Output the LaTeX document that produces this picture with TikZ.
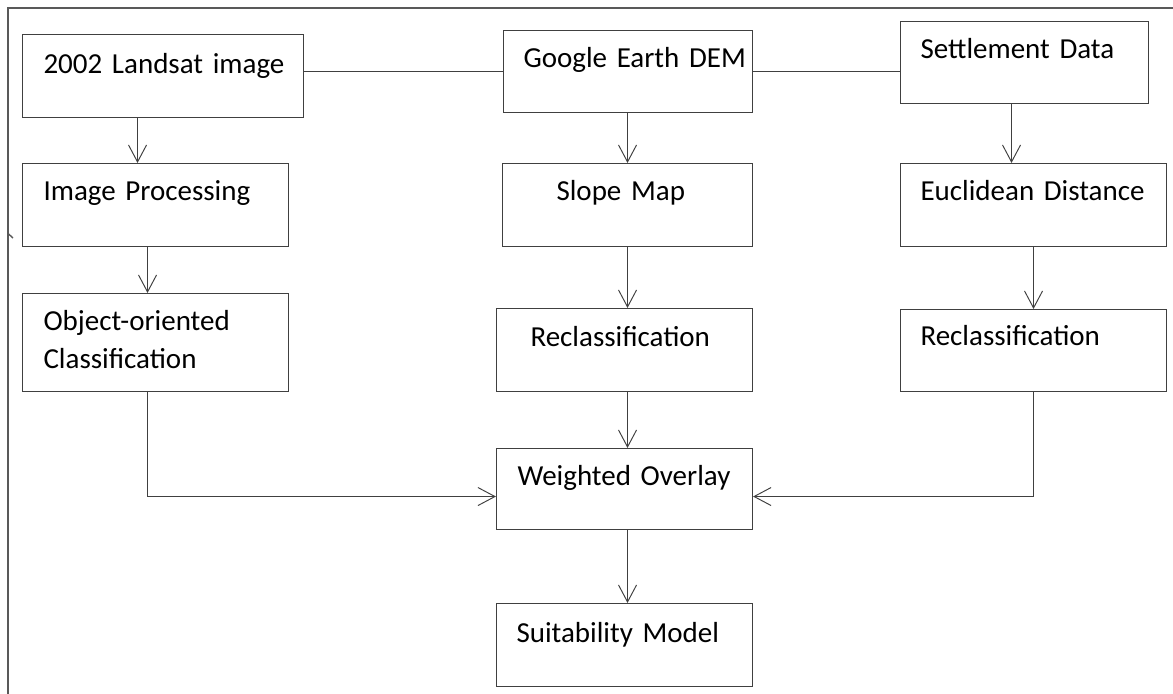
\documentclass[tikz,border=0pt]{standalone}
\usepackage{fontspec}
\setmainfont{Carlito}
\usepackage{tikz}
\usetikzlibrary{arrows.meta}
\usetikzlibrary{positioning}
\usetikzlibrary{calc}
\definecolor{linegray}{HTML}{404040}
\definecolor{framegray}{HTML}{595959}
\newcommand{\boxfont}{\fontsize{16.5pt}{21.6pt}\selectfont}
\tikzset{
  procbox/.style = {rectangle, draw=linegray, line width=0.6pt, anchor=north west,
    inner xsep=0pt, inner ysep=0pt, font=\boxfont,
    execute at begin node={\leftskip=#1\relax}},% boite, texte en haut a gauche
  flow/.style = {draw=linegray, line width=0.55pt,
    -{Straight Barb[length=0.34cm,width=0.36cm]}},% fleche ouverte
  link/.style = {draw=linegray, line width=0.55pt}% trait simple
}

\begin{document}
\begin{tikzpicture}
\useasboundingbox (0,0) rectangle (23.46,-13.88);
% cadre
\draw[framegray, line width=1.6pt] (0.16,-13.88) -- (0.16,-0.16) -- (23.46,-0.16);
\draw[framegray, line width=0.8pt] (0.15,-4.66) -- (0.26,-4.76);

% colonne gauche
\node [procbox=0.42cm, text width=5.62cm, text height=0.78cm, text depth=0.88cm]
  (landsat) at (0.44,-0.68) {2002 Landsat image};
\node [procbox=0.42cm, text width=5.32cm, text height=0.74cm, text depth=0.92cm]
  (improc) at (0.44,-3.26) {Image Processing};
\node [procbox=0.42cm, text width=5.32cm, text height=0.74cm, text depth=1.22cm]
  (objclass) at (0.44,-5.86) {Object-oriented\\Classification};

% colonne milieu
\node [procbox=0.40cm, text width=4.98cm, text height=0.74cm, text depth=0.90cm]
  (dem) at (10.06,-0.60) {Google Earth DEM};
\node [procbox=1.08cm, text width=5.00cm, text height=0.74cm, text depth=0.92cm]
  (slope) at (10.04,-3.26) {Slope Map};
\node [procbox=0.68cm, text width=5.12cm, text height=0.76cm, text depth=0.90cm]
  (reclassM) at (9.92,-6.16) {Reclassification};
\node [procbox=0.42cm, text width=5.12cm, text height=0.74cm, text depth=0.88cm]
  (overlay) at (9.92,-8.96) {Weighted Overlay};
\node [procbox=0.40cm, text width=5.12cm, text height=0.78cm, text depth=0.88cm]
  (suit) at (9.92,-12.06) {Suitability Model};

% colonne droite
\node [procbox=0.40cm, text width=4.96cm, text height=0.74cm, text depth=0.90cm]
  (settle) at (18.00,-0.42) {Settlement Data};
\node [procbox=0.40cm, text width=5.32cm, text height=0.74cm, text depth=0.92cm]
  (eucl) at (18.00,-3.26) {Euclidean Distance};
\node [procbox=0.40cm, text width=5.32cm, text height=0.72cm, text depth=0.92cm]
  (reclassR) at (18.00,-6.18) {Reclassification};

% liens du haut
\draw[link] (dem.west -| landsat.east) -- (dem.west);
\draw[link] (dem.east) -- (dem.east -| settle.west);

% fleches
\draw[flow] ([xshift=-0.36cm]improc.north |- landsat.south) -- ([xshift=-0.36cm]improc.north);
\draw[flow] ([xshift=-0.16cm]improc.south) -- ([xshift=-0.16cm]objclass.north);
\draw[flow] ([xshift=-0.16cm]objclass.south) |- ([yshift=-0.15cm]overlay.west);

\draw[flow] (dem.south -| slope.north) -- (slope.north);
\draw[flow] (slope.south) -- (slope.south |- reclassM.north);
\draw[flow] (reclassM.south -| slope.south) -- (overlay.north -| slope.south);
\draw[flow] (overlay.south -| slope.south) -- (suit.north -| slope.south);

\draw[flow] ([xshift=-0.26cm]settle.south) -- ([xshift=-0.26cm]settle.south |- eucl.north);
\draw[flow] (eucl.south) -- (eucl.south |- reclassR.north);
\draw[flow] (reclassR.south) |- ([yshift=-0.15cm]overlay.east);
\end{tikzpicture}
\end{document}
